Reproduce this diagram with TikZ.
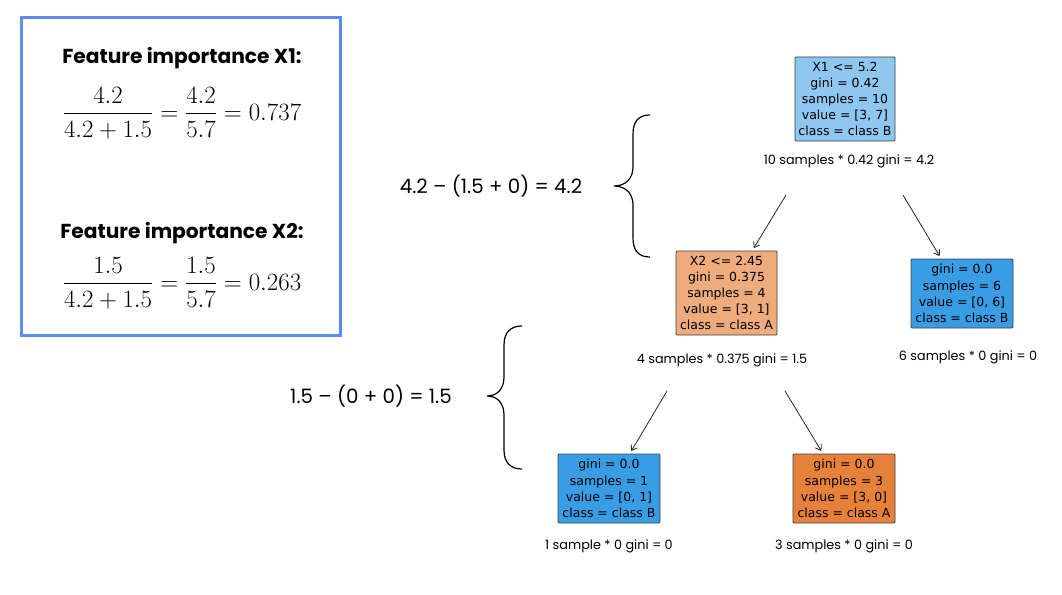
\documentclass[tikz,border=0pt]{standalone}
\usepackage{amsmath}
\usepackage{fontspec}
\setmainfont{Latin Modern Roman}
\newfontfamily\treefont{DejaVu Sans}
\newfontfamily\annfont{Poppins}
\usetikzlibrary{arrows.meta}
\definecolor{frameblue}{HTML}{5B8DEF}
\definecolor{rootfill}{HTML}{8EC7F0}
\definecolor{afill}{HTML}{EEAB7B}
\definecolor{bpure}{HTML}{399DE5}
\definecolor{apure}{HTML}{E58139}
\begin{document}
\begin{tikzpicture}[x=1pt,y=-1pt,
  treebox/.style={draw=black!75, line width=0.8pt, rounded corners=1pt, align=center, inner sep=0pt,
    font=\treefont\fontsize{12.5}{16.2}\selectfont},
  caption/.style={font=\annfont\fontsize{12.8}{15}\selectfont, inner sep=0pt},
  eqtext/.style={font=\annfont\fontsize{19.8}{23}\selectfont, inner sep=0pt},
  heading/.style={font=\annfont\bfseries\fontsize{20.2}{24}\selectfont, inner sep=0pt},
  mathtext/.style={font=\fontsize{24}{28}\selectfont, inner sep=0pt},
  edge/.style={draw=black!85, line width=0.8pt, -{Straight Barb[length=5pt,width=7pt]}},
  bracestyle/.style={draw=black, line width=1.2pt}]
\useasboundingbox (0,0) rectangle (1062,594);
\fill[white] (0,0) rectangle (1062,594);

% frame
\draw[frameblue, line width=3pt] (21,18) rectangle (340,335);
\node[heading] (h1) at (182,58) {Feature importance X1:};
\node[mathtext] (f1) at (182,113) {$\dfrac{4.2}{4.2+1.5}=\dfrac{4.2}{5.7}=0.737$};
\node[heading] (h2) at (182,233) {Feature importance X2:};
\node[mathtext] (f2) at (182,283) {$\dfrac{1.5}{4.2+1.5}=\dfrac{1.5}{5.7}=0.263$};

% tree nodes
\node[treebox, fill=rootfill, minimum width=100pt, minimum height=84pt] (root) at (845,99)
  {X1 <= 5.2\\gini = 0.42\\samples = 10\\value = [3, 7]\\class = class B};
\node[caption] (rootcap) at (849,161) {10 samples * 0.42 gini = 4.2};

\node[treebox, fill=afill, minimum width=101pt, minimum height=84pt] (x2) at (726.5,293)
  {X2 <= 2.45\\gini = 0.375\\samples = 4\\value = [3, 1]\\class = class A};
\node[caption] (x2cap) at (722,360) {4 samples * 0.375 gini = 1.5};

\node[treebox, fill=bpure, minimum width=102pt, minimum height=69pt] (rl) at (962,293.5)
  {gini = 0.0\\samples = 6\\value = [0, 6]\\class = class B};
\node[caption] (rlcap) at (968,357) {6 samples * 0 gini = 0};

\node[treebox, fill=bpure, minimum width=102pt, minimum height=69pt] (ll) at (609,488.5)
  {gini = 0.0\\samples = 1\\value = [0, 1]\\class = class B};
\node[caption] (llcap) at (609,546) {1 sample * 0 gini = 0};

\node[treebox, fill=apure, minimum width=102pt, minimum height=69pt] (lr) at (844,488.5)
  {gini = 0.0\\samples = 3\\value = [3, 0]\\class = class A};
\node[caption] (lrcap) at (844,546) {3 samples * 0 gini = 0};

% edges
\coordinate (s1) at (786,195);
\coordinate (s2) at (903,195);
\coordinate (s3) at (667,391);
\coordinate (s4) at (785,391);
\draw[edge, shorten >=3pt] (s1) -- (x2);
\draw[edge, shorten >=3pt] (s2) -- (rl);
\draw[edge, shorten >=3pt] (s3) -- (ll);
\draw[edge, shorten >=3pt] (s4) -- (lr);

% braces
\draw[bracestyle] (650,115) .. controls (639,115) and (633,121) .. (633,134) -- (633,167)
  .. controls (633,178) and (626,186) .. (614,186)
  .. controls (626,186) and (633,194) .. (633,205) -- (633,238)
  .. controls (633,251) and (639,257) .. (650,257);
\draw[bracestyle] (522,326) .. controls (511,326) and (504,332) .. (504,345) -- (504,377)
  .. controls (504,388) and (498,396) .. (487,396)
  .. controls (498,396) and (504,404) .. (504,415) -- (504,450)
  .. controls (504,463) and (511,469) .. (522,469);
\node[eqtext] (e1) at (491,186) {4.2 – (1.5 + 0) = 4.2};
\node[eqtext] (e2) at (371,396) {1.5 – (0 + 0) = 1.5};
\end{tikzpicture}
\end{document}
